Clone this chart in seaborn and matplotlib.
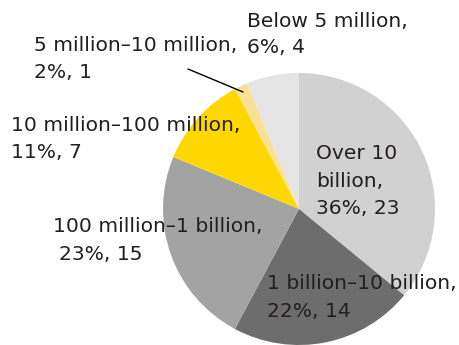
import matplotlib
matplotlib.use("Agg")
import matplotlib.pyplot as plt
import seaborn as sns

sns.set_style("white")
plt.rcParams['font.family'] = ['DejaVu Sans']

categories = ["Over 10 billion", "1 billion–10 billion", "100 million–1 billion",
              "10 million–100 million", "5 million–10 million", "Below 5 million"]
counts = [23, 14, 15, 7, 1, 4]
percents = [36, 22, 23, 11, 2, 6]
colors = ["#d1d1d1", "#6d6d6d", "#a3a3a3", "#ffd700", "#f8e196", "#e4e4e4"]

fig = plt.figure(figsize=(4.59, 3.45), dpi=100)
cx, cy, r = 299, 209, 136
W, H = 459, 345
ax = fig.add_axes([(cx - r) / W, (H - cy - r) / H, 2 * r / W, 2 * r / H])
ax.pie(counts, colors=colors, startangle=90, counterclock=False,
       wedgeprops=dict(linewidth=0))
ax.set_xlim(-1, 1)
ax.set_ylim(-1, 1)
ax.set_aspect("equal")
ax.axis("off")

tc = "#231f20"
fs = 14.6

def px(x, y):
    return x / W, 1 - y / H

# label lines built from the data
label_lines = {
    "Over 10 billion": ["Over 10", "billion,", f"{percents[0]}%, {counts[0]}"],
}
for i, c in enumerate(categories):
    if c not in label_lines:
        label_lines[c] = [c + ",", f"{percents[i]}%, {counts[i]}"]

# placement per label: list of (x, baseline y) in pixels for each line
placement = {
    "Over 10 billion": [(316, 159), (316, 187), (316, 214)],
    "1 billion–10 billion": [(267, 289), (267, 317)],
    "100 million–1 billion": [(53, 232), (59, 260)],
    "10 million–100 million": [(11, 131), (11, 158)],
    "5 million–10 million": [(34, 51), (34, 78)],
    "Below 5 million": [(247, 27), (247, 53)],
}
for c in categories:
    for line, (x, y) in zip(label_lines[c], placement[c]):
        fx, fy = px(x, y)
        fig.text(fx, fy, line, ha="left", va="baseline", fontsize=fs, color=tc)

x0, y0 = px(188, 69)
x1, y1 = px(243, 92)
fig.add_artist(plt.Line2D([x0, x1], [y0, y1], color="#000000", lw=1.0,
                          transform=fig.transFigure))

fig.savefig("out.png", dpi=100)
